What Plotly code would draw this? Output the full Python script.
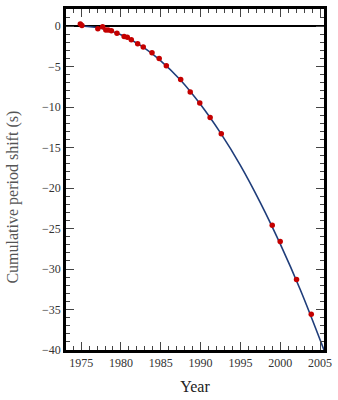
import plotly.graph_objects as go

# Observed data points
obs_year = [1974.9, 1975.1, 1977.1, 1977.7, 1978.1, 1978.4, 1978.8, 1979.5, 1980.4, 1980.8,
            1981.3, 1982.1, 1982.8, 1983.9, 1984.8, 1985.7, 1987.5, 1988.7, 1989.9, 1991.2,
            1992.6, 1999.0, 2000.0, 2002.05, 2003.9]
obs_shift = [0.25, 0.05, -0.35, -0.1, -0.5, -0.5, -0.6, -0.9, -1.3, -1.4,
             -1.7, -2.2, -2.6, -3.3, -4.0, -4.9, -6.6, -8.15, -9.5, -11.3,
             -13.3, -24.6, -26.6, -31.3, -35.6]

# Prediction curve
curve_year = [1975, 1977.5, 1980, 1982.5, 1985, 1987.5, 1990, 1992.5, 1995, 1997.5, 2000, 2002.5, 2005.5]
curve_shift = [0, -0.27, -1.08, -2.42, -4.3, -6.7, -9.7, -13.2, -17.2, -21.8, -26.9, -32.5, -40]

x_ticks = [1975, 1980, 1985, 1990, 1995, 2000, 2005]
y_ticks = [0, -5, -10, -15, -20, -25, -30, -35, -40]

fig = go.Figure()
fig.add_trace(go.Scatter(x=curve_year, y=curve_shift, mode="lines",
                         line=dict(color="#1f3d7a", width=1.6, shape="spline"),
                         hoverinfo="skip", showlegend=False))
fig.add_trace(go.Scatter(x=obs_year, y=obs_shift, mode="markers",
                         marker=dict(color="#c40000", size=5.5, symbol="circle"),
                         showlegend=False))

font = "Liberation Serif"
fig.update_layout(
    width=338, height=400,
    margin=dict(l=66, r=10, t=6, b=50),
    plot_bgcolor="white", paper_bgcolor="white",
    font=dict(family=font, size=12, color="#222"),
    annotations=[dict(text="Cumulative period shift (s)", textangle=-90,
                      xref="paper", yref="paper", x=-0.204, y=0.448,
                      xanchor="center", yanchor="middle", showarrow=False,
                      font=dict(size=16, color="#555", family=font))],
)
fig.update_xaxes(
    range=[1973.1, 2005.5], tickvals=x_ticks, ticktext=[str(v) for v in x_ticks],
    showgrid=False, zeroline=False,
    showline=True, linecolor="black", linewidth=2.5, mirror="allticks",
    ticks="inside", ticklen=8, tickcolor="#444", tickwidth=1,
    minor=dict(ticks="inside", ticklen=4, dtick=1, tickcolor="#444", showgrid=False),
    title=dict(text="Year", font=dict(size=16, color="#222", family=font), standoff=12),
    tickfont=dict(size=12, color="#333", family=font),
)
fig.update_yaxes(
    range=[-40, 2.1], tickvals=y_ticks,
    showgrid=False, zeroline=True, zerolinecolor="black", zerolinewidth=2,
    showline=True, linecolor="black", linewidth=2.5, mirror="allticks",
    ticks="inside", ticklen=8, tickcolor="#444", tickwidth=1,
    minor=dict(ticks="inside", ticklen=4, dtick=1, tickcolor="#444", showgrid=False),
    tickfont=dict(size=12, color="#333", family=font),
)
fig.write_html("out.html")
